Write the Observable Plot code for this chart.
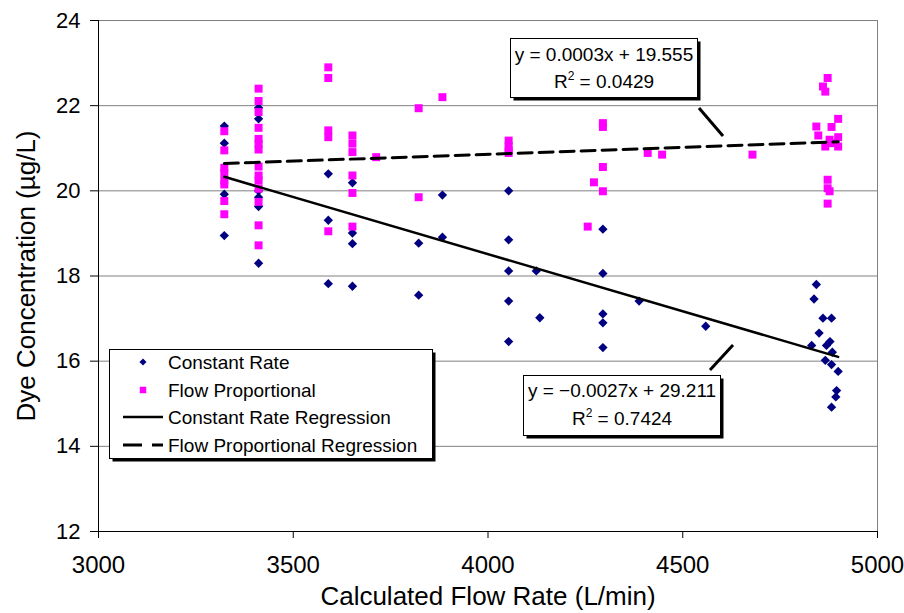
<!DOCTYPE html>
<html>
<head>
<meta charset="utf-8">
<script src="https://cdn.jsdelivr.net/npm/d3@7"></script>
<script src="https://cdn.jsdelivr.net/npm/@observablehq/plot@0.6"></script>
<style>
  html, body { margin: 0; padding: 0; background: #fff; }
  #wrap { position: relative; width: 904px; height: 613px; font-family: "Liberation Sans", Arial, sans-serif; }
  #overlay { position: absolute; left: 0; top: 0; pointer-events: none; }
</style>
</head>
<body>
<div id="wrap"></div>
<script>
// ---- Data ----
const constantRateX = [
  3323, 3323, 3323, 3323,
  3411, 3411, 3411, 3411, 3411, 3411,
  3590, 3590, 3590,
  3652, 3652, 3652, 3652,
  3822, 3822,
  3883, 3883,
  4053, 4053, 4053, 4053, 4053,
  4124, 4133,
  4295, 4295, 4295, 4295, 4295,
  4388, 4559,
  4843, 4837, 4860, 4882, 4850, 4831, 4869, 4878, 4884, 4866, 4882, 4899, 4895, 4893, 4882
];
const constantRateY = [
  21.52, 21.12, 19.92, 18.95,
  21.95, 21.69, 20.00, 19.85, 19.63, 18.30,
  20.40, 19.31, 17.82,
  20.19, 19.01, 18.76, 17.76,
  18.77, 17.55,
  19.90, 18.91,
  20.00, 18.85, 18.12, 17.41, 16.46,
  18.12, 17.02,
  19.10, 18.06, 17.11, 16.90, 16.32,
  17.41, 16.82,
  17.80, 17.46, 17.01, 17.01, 16.66, 16.37, 16.37, 16.46, 16.21, 16.02, 15.92, 15.76, 15.31, 15.16, 14.92
];
const flowPropX = [
  3323, 3323, 3323, 3323, 3323, 3323, 3323, 3323,
  3411, 3411, 3411, 3411, 3411, 3411, 3411, 3411, 3411, 3411, 3411, 3411, 3411, 3411,
  3590, 3590, 3590, 3590, 3590,
  3652, 3652, 3652, 3652, 3652, 3652,
  3713,
  3822, 3822,
  3883,
  4053, 4053, 4053, 4053,
  4256, 4272,
  4295, 4295, 4295, 4295,
  4410, 4447, 4679,
  4872, 4860, 4866, 4899, 4843, 4882, 4848, 4899, 4877, 4884, 4866, 4899, 4872, 4872, 4877, 4872
];
const flowPropY = [
  21.40, 20.95, 20.54, 20.42, 20.24, 20.15, 19.76, 19.45,
  22.40, 22.11, 21.85, 21.48, 21.22, 21.10, 20.97, 20.57, 20.36, 20.24, 20.05, 19.74, 19.19, 18.72,
  22.90, 22.65, 21.42, 21.26, 19.05,
  21.30, 21.11, 20.91, 20.36, 19.95, 19.16,
  20.79,
  21.94, 19.85,
  22.20,
  21.18, 21.05, 20.95, 20.89,
  19.16, 20.20,
  21.59, 21.50, 20.56, 19.99,
  20.89, 20.85, 20.85,
  22.65, 22.45, 22.33, 21.69, 21.51, 21.50, 21.30, 21.26, 21.20, 21.12, 21.04, 21.04, 20.26, 20.06, 19.99, 19.70
];
// Regression line end points (as drawn in the reference)
const constantRegX = [3323, 4899];
const constantRegY = [20.33, 16.10];
const flowRegX = [3323, 4899];
const flowRegY = [20.64, 21.15];

const xTicks = [3000, 3500, 4000, 4500, 5000];
const yTicks = [12, 14, 16, 18, 20, 22, 24];

const seriesNames = ["Constant Rate", "Flow Proportional", "Constant Rate Regression", "Flow Proportional Regression"];
const eqFlow = ["y = 0.0003x + 19.555", "0.0429"];
const eqConst = ["y = \u22120.0027x + 29.211", "0.7424"];
const xTitle = "Calculated Flow Rate (L/min)";
const yTitle = "Dye Concentration (\u00B5g/L)";

// ---- Build tables ----
const cr = constantRateX.map((x, i) => ({x, y: constantRateY[i]}));
const fp = flowPropX.map((x, i) => ({x, y: flowPropY[i]}));
const crReg = constantRegX.map((x, i) => ({x, y: constantRegY[i]}));
const fpReg = flowRegX.map((x, i) => ({x, y: flowRegY[i]}));

const FONT = "Liberation Sans, Arial, Helvetica, sans-serif";

const chart = Plot.plot({
  width: 904,
  height: 613,
  marginTop: 20,
  marginRight: 27,
  marginBottom: 82,
  marginLeft: 98,
  style: {fontFamily: FONT, background: "white", color: "black", overflow: "visible"},
  x: {domain: [3000, 5000]},
  y: {domain: [12, 24]},
  marks: [
    Plot.gridY(yTicks, {stroke: "#808080", strokeOpacity: 1, strokeWidth: 1}),
    Plot.frame({stroke: "#808080"}),
    Plot.ruleX([3000], {stroke: "black"}),
    Plot.ruleY([12], {stroke: "black"}),
    Plot.axisX(xTicks, {tickSize: 7, tickPadding: 17, fontSize: 24, label: null, tickFormat: d => String(d)}),
    Plot.axisY(yTicks, {tickSize: 8, tickPadding: 10, fontSize: 22, label: null}),
    Plot.dot(cr, {x: "x", y: "y", symbol: "diamond2", fill: "#000080", stroke: "none", r: 4.2}),
    Plot.dot(fp, {x: "x", y: "y", symbol: "square", fill: "#FF00FF", stroke: "none", r: 4.5}),
    Plot.line(crReg, {x: "x", y: "y", stroke: "black", strokeWidth: 2.5}),
    Plot.line(fpReg, {x: "x", y: "y", stroke: "black", strokeWidth: 3, strokeDasharray: "14,7"}),
    Plot.text([xTitle], {frameAnchor: "bottom", dy: 73, lineAnchor: "bottom", textAnchor: "middle", fontSize: 26}),
    Plot.text([yTitle], {frameAnchor: "left", dx: -72, rotate: -90, textAnchor: "middle", lineAnchor: "middle", fontSize: 26})
  ]
});

const wrap = document.getElementById("wrap");
wrap.appendChild(chart);

// ---- Overlay: legend and equation boxes ----
const ov = d3.select(wrap).append("svg")
  .attr("id", "overlay").attr("width", 904).attr("height", 613)
  .style("font-family", FONT);

function shadowBox(x0, y0, x1, y1) {
  ov.append("rect").attr("x", x0 + 3).attr("y", y0 + 3).attr("width", x1 - x0).attr("height", y1 - y0).attr("fill", "black");
  ov.append("rect").attr("x", x0).attr("y", y0).attr("width", x1 - x0).attr("height", y1 - y0)
    .attr("fill", "white").attr("stroke", "black").attr("stroke-width", 1);
}

// Legend
shadowBox(109.5, 349.5, 432.5, 458.5);
const legY = [362, 390, 417, 445];
ov.append("path").attr("d", d3.symbol(d3.symbolDiamond2, 32)()).attr("transform", `translate(143,${legY[0]})`).attr("fill", "#000080");
ov.append("path").attr("d", d3.symbol(d3.symbolSquare, 42)()).attr("transform", `translate(143,${legY[1]})`).attr("fill", "#FF00FF");
ov.append("line").attr("x1", 123).attr("x2", 163).attr("y1", legY[2]).attr("y2", legY[2]).attr("stroke", "black").attr("stroke-width", 2.5);
ov.append("line").attr("x1", 123).attr("x2", 163).attr("y1", legY[3]).attr("y2", legY[3]).attr("stroke", "black").attr("stroke-width", 3).attr("stroke-dasharray", "19,10,11");
seriesNames.forEach((s, i) => {
  ov.append("text").attr("x", 168).attr("y", legY[i] + 7).attr("font-size", 19).text(s);
});

// Equation boxes
function eqBox(x0, y0, x1, y1, eq, cx, b1, b2) {
  shadowBox(x0, y0, x1, y1);
  ov.append("text").attr("x", cx).attr("y", b1).attr("font-size", 19).attr("text-anchor", "middle").text(eq[0]);
  const t = ov.append("text").attr("x", cx).attr("y", b2).attr("font-size", 19).attr("text-anchor", "middle");
  t.append("tspan").text("R");
  t.append("tspan").attr("font-size", 12).attr("dy", -8).text("2");
  t.append("tspan").attr("dy", 8).text(" = " + eq[1]);
}
eqBox(510.5, 38.5, 697.5, 97.5, eqFlow, 604, 61, 88);
eqBox(523.5, 375.5, 720.5, 435.5, eqConst, 622, 397, 425);

// Leader lines
ov.append("line").attr("x1", 699).attr("y1", 108).attr("x2", 723).attr("y2", 136).attr("stroke", "black").attr("stroke-width", 3);
ov.append("line").attr("x1", 710).attr("y1", 370).attr("x2", 733).attr("y2", 345).attr("stroke", "black").attr("stroke-width", 3);
</script>
</body>
</html>
